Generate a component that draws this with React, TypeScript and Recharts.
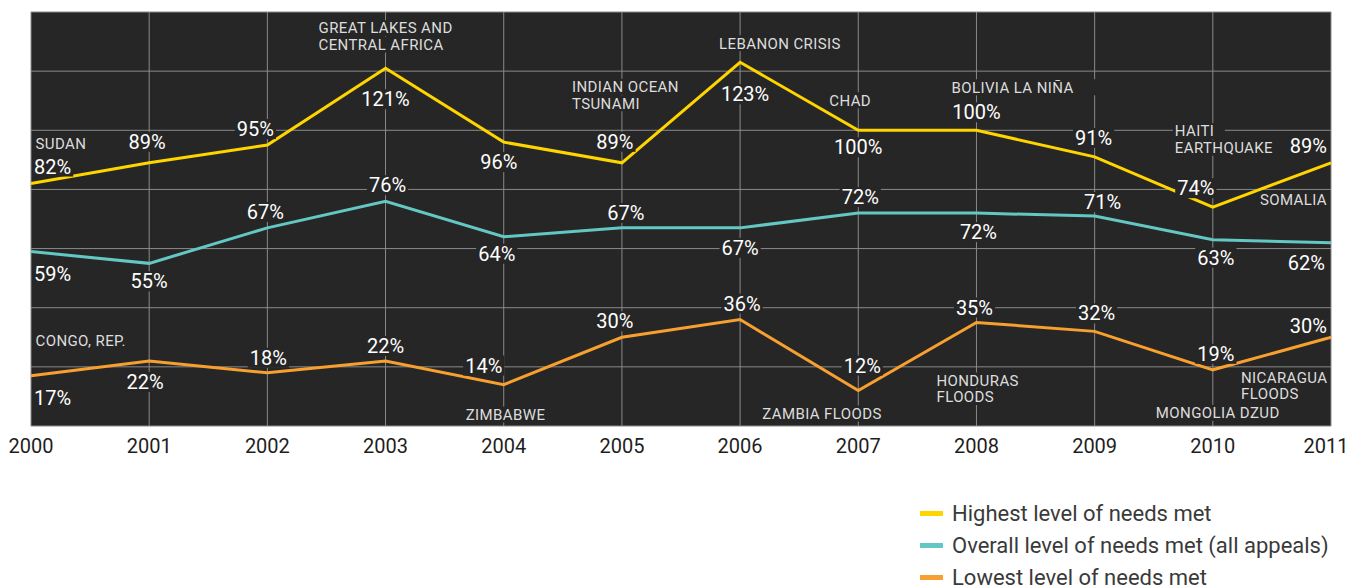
import React from 'react';
import { LineChart, Line, XAxis, YAxis, CartesianGrid, LabelList, Legend } from 'recharts';

const years = [2000, 2001, 2002, 2003, 2004, 2005, 2006, 2007, 2008, 2009, 2010, 2011];
const highest = [82, 89, 95, 121, 96, 89, 123, 100, 100, 91, 74, 89];
const overall = [59, 55, 67, 76, 64, 67, 67, 72, 72, 71, 63, 62];
const lowest = [17, 22, 18, 22, 14, 30, 36, 12, 35, 32, 19, 30];
const yTicks = [0, 20, 40, 60, 80, 100, 120, 140];

const highestEvents = ['SUDAN', '', '', 'GREAT LAKES AND\nCENTRAL AFRICA', '', 'INDIAN OCEAN\nTSUNAMI', 'LEBANON CRISIS', 'CHAD', 'BOLIVIA LA NIÑA', '', 'HAITI\nEARTHQUAKE', 'SOMALIA'];
const lowestEvents = ['CONGO, REP.', '', '', '', 'ZIMBABWE', '', '', 'ZAMBIA FLOODS', 'HONDURAS\nFLOODS', '', 'MONGOLIA DZUD', 'NICARAGUA\nFLOODS'];

const seriesNames = ['Highest level of needs met', 'Overall level of needs met (all appeals)', 'Lowest level of needs met'];
const colors = ['#FFD500', '#63C7C4', '#F7A030'];

// label placements: [dx, dy(center), anchor]
type P = [number, number, string];
const highestPos: P[] = [[3, -17, 'start'], [-2, -21, 'middle'], [-12, -16, 'middle'], [0, 31, 'middle'], [-5, 20, 'middle'], [-7, -21, 'middle'], [5, 32, 'middle'], [0, 17, 'middle'], [0, -18, 'middle'], [-1, -19, 'middle'], [-17, -19, 'middle'], [-4, -17, 'end']];
const overallPos: P[] = [[3, 22, 'start'], [0, 18, 'middle'], [-2, -16, 'middle'], [2, -16, 'middle'], [-7, 17, 'middle'], [4, -15, 'middle'], [0, 20, 'middle'], [2, -16, 'middle'], [2, 19, 'middle'], [8, -14, 'middle'], [3, 18, 'middle'], [-6, 20, 'end']];
const lowestPos: P[] = [[3, 22, 'start'], [-4, 21, 'middle'], [1, -15, 'middle'], [0, -15, 'middle'], [-20, -19, 'middle'], [-7, -16, 'middle'], [2, -16, 'middle'], [4, -25, 'middle'], [-2, -15, 'middle'], [2, -18, 'middle'], [3, -16, 'middle'], [-4, -11, 'end']];
const highestEventPos: P[] = [[4.5, -40, 'start'], [0, 0, 'start'], [0, 0, 'start'], [-67, -40, 'start'], [0, 0, 'start'], [-50, -76, 'start'], [-21, -19, 'start'], [-29, -30, 'start'], [-25, -43, 'start'], [0, 0, 'start'], [-38, -76, 'start'], [-4, 37, 'end']];
const lowestEventPos: P[] = [[4.5, -35, 'start'], [0, 0, 'start'], [0, 0, 'start'], [0, 0, 'start'], [-38, 30, 'start'], [0, 0, 'start'], [0, 0, 'start'], [-96, 23, 'start'], [-40, 58, 'start'], [0, 0, 'start'], [-57, 43, 'start'], [-90, 40, 'start']];

const data = years.map((y, i) => ({ year: y, highest: highest[i], overall: overall[i], lowest: lowest[i] }));

const BG = '#262626';
const FONT = 'Roboto, "DejaVu Sans", sans-serif';

function makePctLabel(pos: P[]) {
  return (props: any) => {
    const { x, y, index, value } = props;
    const p = pos[index];
    if (!p) return null;
    const text = `${value}%`;
    const w = text.length * 12.4 + 4;
    const cx = x + p[0];
    const cy = y + p[1];
    let left = cx - w / 2;
    if (p[2] === 'start') left = cx - 2;
    if (p[2] === 'end') left = cx - w + 2;
    return (
      <g>
        <rect x={left} y={cy - 10} width={w} height={20} fill={BG} />
        <text x={cx} y={cy + 7} textAnchor={p[2] as any} fontFamily={FONT} fontSize={20} fill="#ffffff">{text}</text>
      </g>
    );
  };
}

function makeEventLabel(events: string[], pos: P[]) {
  return (props: any) => {
    const { x, y, index } = props;
    const ev = events[index];
    if (!ev) return null;
    const p = pos[index];
    const lines = ev.split('\n');
    const cx = x + p[0];
    const cy = y + p[1];
    return (
      <g>
        {lines.map((ln, k) => {
          const w = ln.length * 9.6 + 4;
          const left = p[2] === 'end' ? cx - w + 2 : cx - 2;
          return (
            <g key={k}>
              <rect x={left} y={cy + k * 16.5 - 8} width={w} height={16} fill={BG} />
              <text x={cx} y={cy + k * 16.5 + 5.3} textAnchor={p[2] as any} fontFamily={FONT} fontSize={15} letterSpacing={0.4} fill="#dddddd">{ln}</text>
            </g>
          );
        })}
      </g>
    );
  };
}

const YearTick = (props: any) => {
  const { x, payload } = props;
  return (
    <text x={Math.min(x, 1326)} y={453} textAnchor="middle" fontFamily={FONT} fontSize={20} fontWeight={400} fill="#1e1e1e">{payload.value}</text>
  );
};

const LegendContent = () => (
  <div style={{ fontFamily: FONT }}>
    {seriesNames.map((n, i) => (
      <div key={n} style={{ display: 'flex', alignItems: 'center', height: 32 }}>
        <div style={{ width: 23, height: 5, background: colors[i], marginRight: 9 }} />
        <span style={{ fontSize: 22, color: '#3a3a3a', whiteSpace: 'nowrap' }}>{n}</span>
      </div>
    ))}
  </div>
);

export default function App() {
  return (
    <div style={{ position: 'absolute', left: 0, top: 0, width: 1349, height: 588, background: '#fff', overflow: 'hidden' }}>
      <LineChart width={1349} height={588} data={data} margin={{ top: 12, left: 31, right: 18, bottom: 132 }}>
        <CartesianGrid fill={BG} stroke="#8a8a8a" strokeWidth={1} fillOpacity={1} />
        <XAxis dataKey="year" type="number" domain={[2000, 2011]} ticks={years} axisLine={false} tickLine={false} height={30} tick={<YearTick />} interval={0} />
        <YAxis type="number" domain={[0, 140]} ticks={yTicks} hide width={0} />
        <Legend layout="vertical" align="center" verticalAlign="middle" content={<LegendContent />} wrapperStyle={{ position: 'absolute', left: 920, top: 497, width: 430, height: 100 }} />
        <Line type="linear" dataKey="lowest" stroke={colors[2]} strokeWidth={3} dot={false} isAnimationActive={false}>
          <LabelList dataKey="lowest" content={makeEventLabel(lowestEvents, lowestEventPos)} />
        </Line>
        <Line type="linear" dataKey="overall" stroke={colors[1]} strokeWidth={3} dot={false} isAnimationActive={false} />
        <Line type="linear" dataKey="highest" stroke={colors[0]} strokeWidth={3} dot={false} isAnimationActive={false}>
          <LabelList dataKey="highest" content={makeEventLabel(highestEvents, highestEventPos)} />
        </Line>
        <Line type="linear" dataKey="lowest" stroke="none" dot={false} legendType="none" isAnimationActive={false}>
          <LabelList dataKey="lowest" content={makePctLabel(lowestPos)} />
        </Line>
        <Line type="linear" dataKey="overall" stroke="none" dot={false} legendType="none" isAnimationActive={false}>
          <LabelList dataKey="overall" content={makePctLabel(overallPos)} />
        </Line>
        <Line type="linear" dataKey="highest" stroke="none" dot={false} legendType="none" isAnimationActive={false}>
          <LabelList dataKey="highest" content={makePctLabel(highestPos)} />
        </Line>
      </LineChart>
    </div>
  );
}
